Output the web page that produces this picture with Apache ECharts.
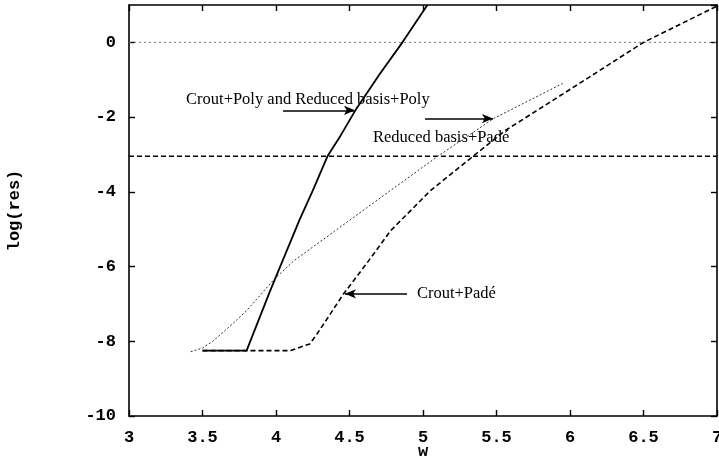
<!DOCTYPE html>
<html>
<head>
<meta charset="utf-8">
<script src="https://cdn.jsdelivr.net/npm/echarts@6/dist/echarts.min.js"></script>
<style>html,body{margin:0;padding:0;background:#fff;}#c{width:719px;height:465px;}</style>
</head>
<body>
<div id="c"></div>
<script>
// Crout+Poly and Reduced basis+Poly (solid)
const wPoly = [3.5, 3.8, 3.96, 4.06, 4.16, 4.25, 4.35, 4.44, 4.54, 4.7, 4.86, 5.03];
const resPoly = [-8.25, -8.25, -6.65, -5.7, -4.75, -3.97, -3.05, -2.49, -1.82, -0.88, 0, 1];
// Reduced basis+Padé (thin dotted)
const wRbPade = [3.42, 3.5, 3.57, 3.7, 3.8, 3.99, 4.12, 4.4, 4.7, 5.1, 5.48, 5.95];
const resRbPade = [-8.28, -8.18, -8.0, -7.55, -7.18, -6.33, -5.85, -5.05, -4.19, -3.05, -2.04, -1.1];
// Crout+Padé (dashed)
const wCroutPade = [3.5, 4.1, 4.23, 4.28, 4.46, 4.62, 4.78, 5.05, 5.34, 5.56, 6.06, 6.5, 7.0];
const resCroutPade = [-8.25, -8.25, -8.07, -7.8, -6.73, -5.9, -5.04, -3.97, -3.05, -2.36, -1.11, 0, 0.97];
// reference levels
const levelZero = 0;
const levelTol = -3.05;
const xRange = [3, 7];
// annotation texts and anchors (data coordinates)
const labelTexts = ['Crout+Poly and Reduced basis+Poly', 'Reduced basis+Padé', 'Crout+Padé'];
const labelAt = [[3.388, -1.53], [4.66, -2.55], [4.959, -6.73]];
const arrowFrom = [[4.048, -1.82], [5.014, -2.04], [4.891, -6.73]];
const arrowTo = [[4.537, -1.82], [5.476, -2.04], [4.469, -6.73]];

const zip = (a, b) => a.map((v, i) => [v, b[i]]);
const mono = 'Liberation Mono';
const serif = 'Liberation Serif';

const chart = echarts.init(document.getElementById('c'));
const axisLine = {onZero: false, lineStyle: {color: '#000', width: 1.6}};
const tick = {inside: true, length: 6, lineStyle: {color: '#000', width: 1.4}};
chart.setOption({
  animation: false,
  backgroundColor: '#fff',
  grid: {left: 129, right: 2, top: 5, bottom: 49, containLabel: false, outerBoundsMode: 'none'},
  xAxis: [{
    type: 'value', min: 3, max: 7, interval: 0.5,
    axisLine: axisLine, axisTick: tick, splitLine: {show: false},
    axisLabel: {color: '#000', fontFamily: mono, fontSize: 17, fontWeight: 'bold', margin: 13},
    name: 'w', nameLocation: 'middle', nameGap: 27, nameMoveOverlap: false,
    nameTextStyle: {color: '#000', fontFamily: mono, fontSize: 17, fontWeight: 'bold'}
  }, {
    type: 'value', position: 'top', min: 3, max: 7, interval: 0.5,
    axisLine: axisLine, axisTick: tick, splitLine: {show: false}, axisLabel: {show: false}
  }],
  yAxis: [{
    type: 'value', min: -10, max: 1, interval: 2,
    axisLine: axisLine, axisTick: tick, splitLine: {show: false},
    axisLabel: {color: '#000', fontFamily: mono, fontSize: 17, fontWeight: 'bold', margin: 13, showMaxLabel: false},
    name: 'log(res)', nameLocation: 'middle', nameGap: 106, nameRotate: 90, nameMoveOverlap: false,
    nameTextStyle: {color: '#000', fontFamily: mono, fontSize: 17, fontWeight: 'bold'}
  }, {
    type: 'value', position: 'right', min: -10, max: 1, interval: 2,
    axisLine: axisLine, axisTick: tick, splitLine: {show: false}, axisLabel: {show: false}
  }],
  series: [
    {type: 'line', name: 'zero', data: xRange.map(x => [x, levelZero]), symbol: 'none',
     lineStyle: {color: '#777', width: 1, type: [2, 3]}},
    {type: 'line', name: 'tol', data: xRange.map(x => [x, levelTol]), symbol: 'none',
     lineStyle: {color: '#000', width: 1.5, type: [5, 3]}},
    {type: 'line', name: 'Reduced basis+Padé', data: zip(wRbPade, resRbPade), symbol: 'none',
     lineStyle: {color: '#333', width: 1, type: [2, 2]}},
    {type: 'line', name: 'Crout+Padé', data: zip(wCroutPade, resCroutPade), symbol: 'none',
     lineStyle: {color: '#000', width: 1.6, type: [5, 3]}},
    {type: 'line', name: 'Poly', data: zip(wPoly, resPoly), symbol: 'none',
     lineStyle: {color: '#000', width: 1.8},
     markLine: {
       silent: true, symbol: ['none', 'arrow'], symbolSize: [7, 11],
       label: {show: false},
       lineStyle: {color: '#000', width: 1.6, type: 'solid'},
       data: arrowFrom.map((p, i) => [{coord: p}, {coord: arrowTo[i]}])
     },
     markPoint: {
       silent: true, symbol: 'circle', symbolSize: 0.01,
       data: labelTexts.map((t, i) => ({
         coord: labelAt[i], value: t,
         label: {show: true, position: 'right', distance: 0, formatter: t,
                 color: '#000', fontFamily: serif, fontSize: 16.5}
       }))
     }}
  ]
});
</script>
</body>
</html>
